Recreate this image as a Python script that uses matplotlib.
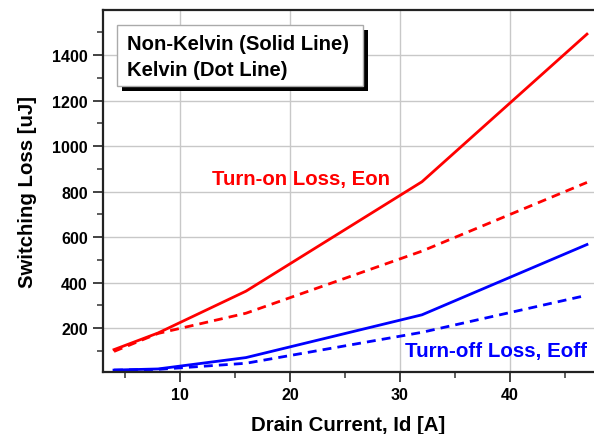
import matplotlib
matplotlib.use("Agg")
import matplotlib.pyplot as plt
from matplotlib.patches import Rectangle
from matplotlib.ticker import MultipleLocator

plt.rcParams['font.family'] = ['Liberation Sans', 'DejaVu Sans']

current = [4, 8, 16, 32, 47]
eon_nonkelvin = [105, 178, 362, 843, 1492]
eon_kelvin = [97, 176, 265, 538, 840]
eoff_nonkelvin = [15, 20, 70, 258, 567]
eoff_kelvin = [15, 18, 45, 181, 344]

xticks = [10, 20, 30, 40]
yticks = [200, 400, 600, 800, 1000, 1200, 1400]

W, H = 594, 435
fig = plt.figure(figsize=(W / 100, H / 100), dpi=100)
L, R, T, B = 103, 594, 11, 373
ax = fig.add_axes([L / W, (H - B) / H, (R - L) / W, (B - T) / H])

ax.plot(current, eon_nonkelvin, color='#ff0000', lw=2.0)
ax.plot(current, eon_kelvin, color='#ff0000', lw=2.0, ls=(0, (3.2, 2.2)))
ax.plot(current, eoff_nonkelvin, color='#0000ff', lw=2.0)
ax.plot(current, eoff_kelvin, color='#0000ff', lw=2.0, ls=(0, (3.2, 2.2)))

ax.set_xlim(3.0, 47.64)
ax.set_ylim(6.6, 1598)
ax.set_xticks(xticks)
ax.set_yticks(yticks)
ax.xaxis.set_minor_locator(MultipleLocator(5))
ax.yaxis.set_minor_locator(MultipleLocator(100))
ax.grid(True, which='major', color='#c8c8c8', lw=1.0)
ax.set_axisbelow(True)

for s in ['left', 'bottom', 'top']:
    ax.spines[s].set_linewidth(1.6)
    ax.spines[s].set_color('#222222')
ax.spines['right'].set_visible(False)

ax.tick_params(which='major', direction='out', length=7, width=1.3, color='#333333', labelsize=11.5, pad=4)
ax.tick_params(which='minor', direction='out', length=4, width=1.1, color='#333333')
for lab in ax.get_xticklabels() + ax.get_yticklabels():
    lab.set_fontweight('bold')

ax.set_xlabel('Drain Current, Id [A]', fontsize=14.7, fontweight='bold', labelpad=9)
ax.set_ylabel('Switching Loss [uJ]', fontsize=14.7, fontweight='bold', labelpad=11)

fig.text(212 / W, 1 - 180 / H, 'Turn-on Loss, Eon', color='#ff0000', fontsize=14.7,
         fontweight='bold', ha='left', va='center')
fig.text(587 / W, 1 - 352 / H, 'Turn-off Loss, Eoff', color='#0000ff', fontsize=14.8,
         fontweight='bold', ha='right', va='center')

# legend box with shadow
bx0, by0, bx1, by1 = 117, 26, 363, 87
shadow = Rectangle(((bx0 + 5) / W, 1 - (by1 + 5) / H), (bx1 - bx0) / W, (by1 - by0) / H,
                   transform=fig.transFigure, facecolor='black', edgecolor='none', zorder=5)
box = Rectangle((bx0 / W, 1 - by1 / H), (bx1 - bx0) / W, (by1 - by0) / H,
                transform=fig.transFigure, facecolor='white', edgecolor='#aaaaaa', lw=1, zorder=6)
fig.patches.extend([shadow, box])
fig.text(127 / W, 1 - 44 / H, 'Non-Kelvin (Solid Line)', fontsize=14.6, fontweight='bold',
         ha='left', va='center', zorder=7)
fig.text(127 / W, 1 - 71 / H, 'Kelvin (Dot Line)', fontsize=14.6, fontweight='bold',
         ha='left', va='center', zorder=7)

fig.savefig('out.png', dpi=100)
